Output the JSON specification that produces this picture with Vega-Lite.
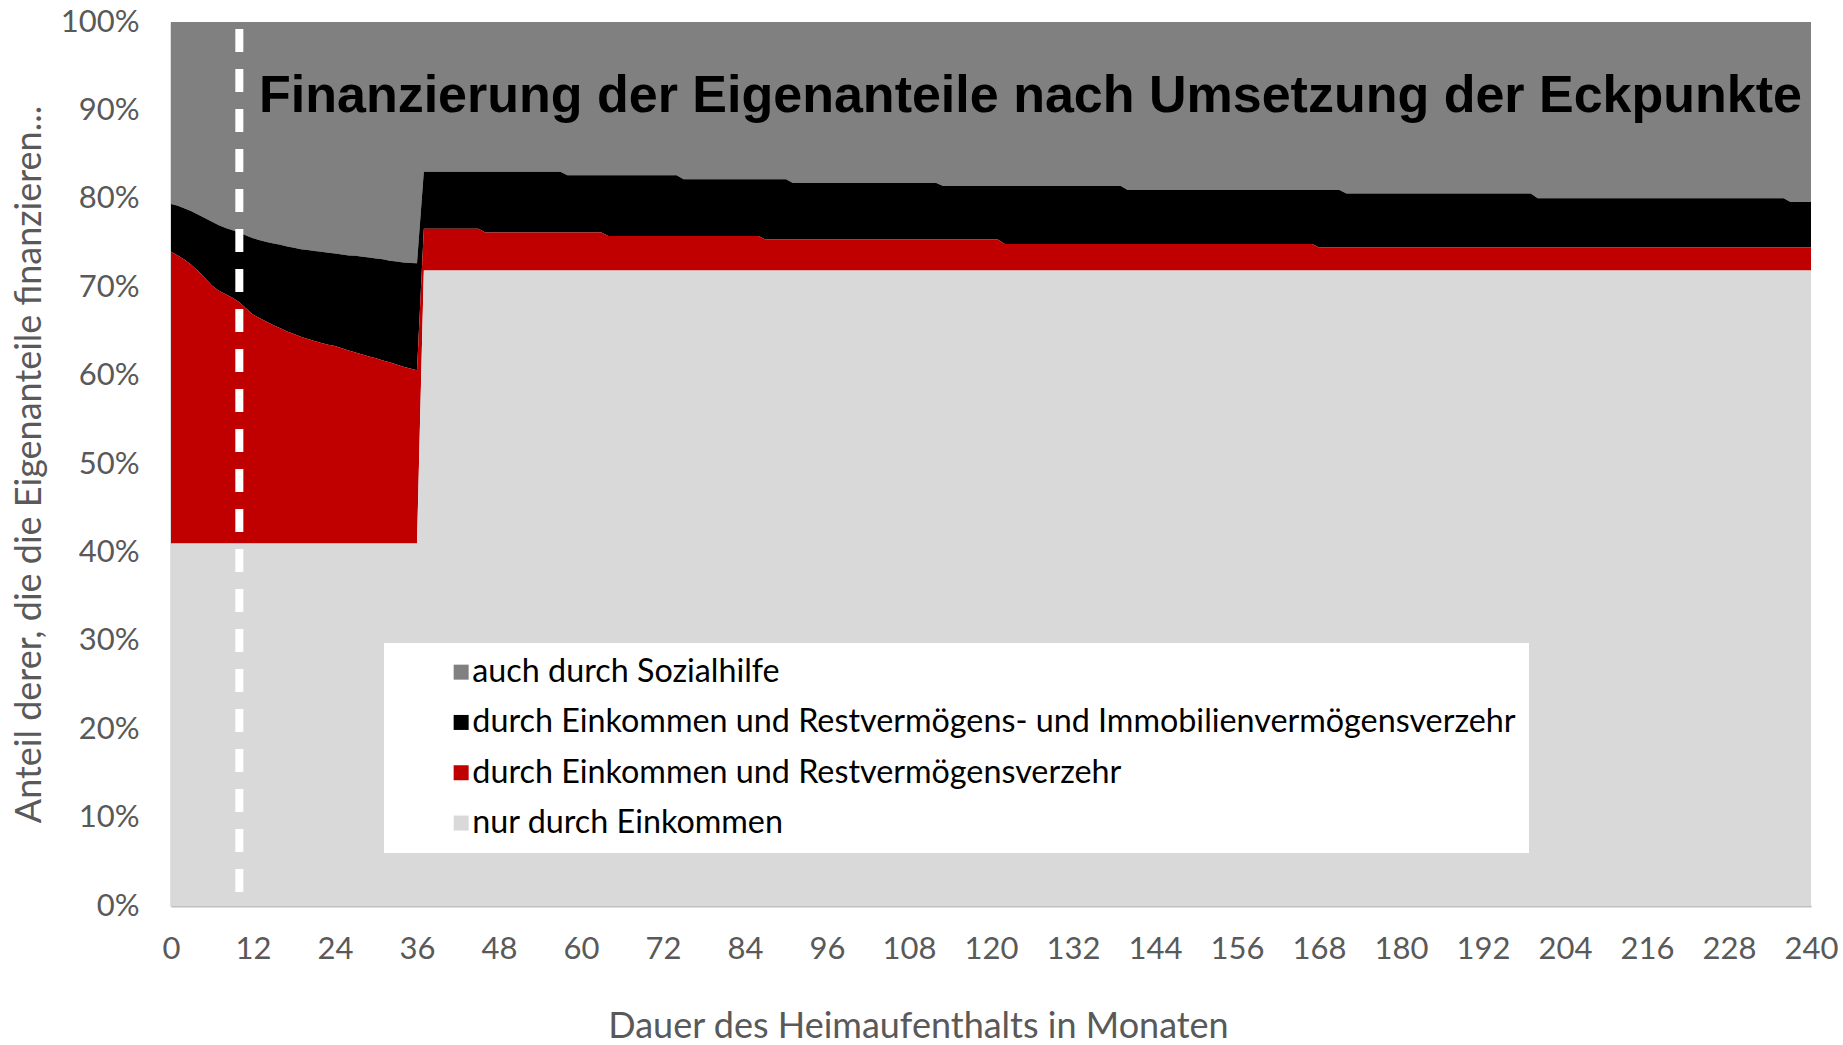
{
  "$schema": "https://vega.github.io/schema/vega-lite/v6.json",
  "autosize": {"type": "none"},
  "width": 1640,
  "height": 884,
  "padding": {"left": 171, "top": 22, "right": 32, "bottom": 139},
  "background": "white",
  "title": {"text": "Finanzierung der Eigenanteile nach Umsetzung der Eckpunkte", "font": "Liberation Sans", "fontSize": 52, "fontWeight": "bold", "color": "#000000", "anchor": "start", "frame": "group", "orient": "top", "offset": -158, "dx": 88, "baseline": "alphabetic"},
  "config": {
    "view": {"stroke": null},
    "font": "Lato",
    "axis": {"grid": false, "ticks": false, "domainColor": "#bfbfbf", "domainWidth": 2, "labelColor": "#595959", "titleColor": "#595959", "labelFont": "Lato", "titleFont": "Lato", "labelFontSize": 31, "titleFontSize": 36, "titleFontWeight": "normal"}
  },
  "data": {"values": [
    {"m": 0, "nur": 41, "rest": 74.0, "immo": 79.4},
    {"m": 1, "nur": 41, "rest": 73.6, "immo": 79.2},
    {"m": 2, "nur": 41, "rest": 73.1, "immo": 78.9},
    {"m": 3, "nur": 41, "rest": 72.5, "immo": 78.6},
    {"m": 4, "nur": 41, "rest": 71.8, "immo": 78.2},
    {"m": 5, "nur": 41, "rest": 71.0, "immo": 77.8},
    {"m": 6, "nur": 41, "rest": 70.2, "immo": 77.4},
    {"m": 7, "nur": 41, "rest": 69.6, "immo": 77.0},
    {"m": 8, "nur": 41, "rest": 69.2, "immo": 76.7},
    {"m": 9, "nur": 41, "rest": 68.8, "immo": 76.45},
    {"m": 10, "nur": 41, "rest": 68.3, "immo": 76.2},
    {"m": 11, "nur": 41, "rest": 67.6, "immo": 75.85},
    {"m": 12, "nur": 41, "rest": 66.9, "immo": 75.55},
    {"m": 13, "nur": 41, "rest": 66.5, "immo": 75.3},
    {"m": 14, "nur": 41, "rest": 66.1, "immo": 75.1},
    {"m": 15, "nur": 41, "rest": 65.7, "immo": 74.95},
    {"m": 16, "nur": 41, "rest": 65.35, "immo": 74.8},
    {"m": 17, "nur": 41, "rest": 65.0, "immo": 74.6},
    {"m": 18, "nur": 41, "rest": 64.7, "immo": 74.45},
    {"m": 19, "nur": 41, "rest": 64.4, "immo": 74.3},
    {"m": 20, "nur": 41, "rest": 64.15, "immo": 74.2},
    {"m": 21, "nur": 41, "rest": 63.9, "immo": 74.1},
    {"m": 22, "nur": 41, "rest": 63.7, "immo": 74.0},
    {"m": 23, "nur": 41, "rest": 63.5, "immo": 73.9},
    {"m": 24, "nur": 41, "rest": 63.35, "immo": 73.8},
    {"m": 25, "nur": 41, "rest": 63.1, "immo": 73.7},
    {"m": 26, "nur": 41, "rest": 62.85, "immo": 73.6},
    {"m": 27, "nur": 41, "rest": 62.6, "immo": 73.55},
    {"m": 28, "nur": 41, "rest": 62.4, "immo": 73.45},
    {"m": 29, "nur": 41, "rest": 62.15, "immo": 73.35},
    {"m": 30, "nur": 41, "rest": 61.95, "immo": 73.25},
    {"m": 31, "nur": 41, "rest": 61.7, "immo": 73.15},
    {"m": 32, "nur": 41, "rest": 61.5, "immo": 73.0},
    {"m": 33, "nur": 41, "rest": 61.25, "immo": 72.9},
    {"m": 34, "nur": 41, "rest": 61.0, "immo": 72.8},
    {"m": 35, "nur": 41, "rest": 60.8, "immo": 72.75},
    {"m": 36, "nur": 41, "rest": 60.6, "immo": 72.7},
    {"m": 37, "nur": 71.9, "rest": 76.6, "immo": 83.05},
    {"m": 45, "nur": 71.9, "rest": 76.6, "immo": 83.05},
    {"m": 46, "nur": 71.9, "rest": 76.2, "immo": 83.05},
    {"m": 57, "nur": 71.9, "rest": 76.2, "immo": 83.05},
    {"m": 58, "nur": 71.9, "rest": 76.2, "immo": 82.65},
    {"m": 63, "nur": 71.9, "rest": 76.2, "immo": 82.65},
    {"m": 64, "nur": 71.9, "rest": 75.8, "immo": 82.65},
    {"m": 74, "nur": 71.9, "rest": 75.8, "immo": 82.65},
    {"m": 75, "nur": 71.9, "rest": 75.8, "immo": 82.2},
    {"m": 86, "nur": 71.9, "rest": 75.8, "immo": 82.2},
    {"m": 87, "nur": 71.9, "rest": 75.4, "immo": 82.2},
    {"m": 90, "nur": 71.9, "rest": 75.4, "immo": 82.2},
    {"m": 91, "nur": 71.9, "rest": 75.4, "immo": 81.8},
    {"m": 112, "nur": 71.9, "rest": 75.4, "immo": 81.8},
    {"m": 113, "nur": 71.9, "rest": 75.4, "immo": 81.45},
    {"m": 121, "nur": 71.9, "rest": 75.4, "immo": 81.45},
    {"m": 122, "nur": 71.9, "rest": 74.9, "immo": 81.45},
    {"m": 139, "nur": 71.9, "rest": 74.9, "immo": 81.45},
    {"m": 140, "nur": 71.9, "rest": 74.9, "immo": 81.0},
    {"m": 167, "nur": 71.9, "rest": 74.9, "immo": 81.0},
    {"m": 168, "nur": 71.9, "rest": 74.5, "immo": 81.0},
    {"m": 171, "nur": 71.9, "rest": 74.5, "immo": 81.0},
    {"m": 172, "nur": 71.9, "rest": 74.5, "immo": 80.6},
    {"m": 199, "nur": 71.9, "rest": 74.5, "immo": 80.6},
    {"m": 200, "nur": 71.9, "rest": 74.5, "immo": 80.05},
    {"m": 236, "nur": 71.9, "rest": 74.5, "immo": 80.05},
    {"m": 237, "nur": 71.9, "rest": 74.5, "immo": 79.65},
    {"m": 240, "nur": 71.9, "rest": 74.5, "immo": 79.65}
  ]},
  "encoding": {
    "x": {"field": "m", "type": "quantitative",
      "scale": {"domain": [0, 240], "nice": false, "zero": false},
      "axis": {"values": [0,12,24,36,48,60,72,84,96,108,120,132,144,156,168,180,192,204,216,228,240], "labelFlush": false, "labelPadding": 28, "labelOverlap": false,
        "title": "Dauer des Heimaufenthalts in Monaten", "titleX": 747, "titleY": 120, "titleBaseline": "middle", "titleAlign": "center"}}
  },
  "layer": [
    {
      "mark": {"type": "area", "interpolate": "linear"},
      "encoding": {
        "y": {"field": "immo", "type": "quantitative",
          "scale": {"domain": [0, 100], "nice": false},
          "title": "Anteil derer, die die Eigenanteile finanzieren...",
          "axis": {"values": [0,10,20,30,40,50,60,70,80,90,100], "labelExpr": "datum.value + '%'", "labelFlush": false, "labelPadding": 32, "labelOverlap": false,
            "titleX": -142, "titleY": 442, "titleBaseline": "middle", "titleAlign": "center", "titleAngle": -90}},
        "y2": {"datum": 100},
        "color": {"datum": "auch durch Sozialhilfe", "type": "nominal",
          "scale": {"domain": ["auch durch Sozialhilfe", "durch Einkommen und Restvermögens- und Immobilienvermögensverzehr", "durch Einkommen und Restvermögensverzehr", "nur durch Einkommen"], "range": ["#808080", "#000000", "#c00000", "#d9d9d9"]},
          "legend": {"title": null, "orient": "none", "legendX": 213, "legendY": 621, "fillColor": "white", "padding": 13, "symbolType": "square", "symbolSize": 225, "symbolStrokeWidth": 0, "symbolOffset": 48, "labelOffset": -5, "labelFont": "Lato", "labelFontSize": 32.3, "labelColor": "#000000", "labelLimit": 3000, "rowPadding": 17.3}}
      }
    },
    {
      "mark": {"type": "area", "interpolate": "linear"},
      "encoding": {
        "y": {"field": "rest", "type": "quantitative", "title": "Anteil derer, die die Eigenanteile finanzieren..."},
        "y2": {"field": "immo"},
        "color": {"datum": "durch Einkommen und Restvermögens- und Immobilienvermögensverzehr", "type": "nominal"}
      }
    },
    {
      "mark": {"type": "area", "interpolate": "linear"},
      "encoding": {
        "y": {"field": "nur", "type": "quantitative", "title": "Anteil derer, die die Eigenanteile finanzieren..."},
        "y2": {"field": "rest"},
        "color": {"datum": "durch Einkommen und Restvermögensverzehr", "type": "nominal"}
      }
    },
    {
      "mark": {"type": "area", "interpolate": "linear"},
      "encoding": {
        "y": {"field": "nur", "type": "quantitative", "title": "Anteil derer, die die Eigenanteile finanzieren..."},
        "y2": {"datum": 0},
        "color": {"datum": "nur durch Einkommen", "type": "nominal"}
      }
    },
    {
      "data": {"values": [{"month": 10}]},
      "mark": {"type": "rule", "color": "white", "strokeWidth": 8, "strokeDash": [23, 17]},
      "encoding": {
        "x": {"field": "month", "type": "quantitative"},
        "y": {"datum": 99.2, "type": "quantitative"},
        "y2": {"datum": 0}
      }
    }
  ]
}
